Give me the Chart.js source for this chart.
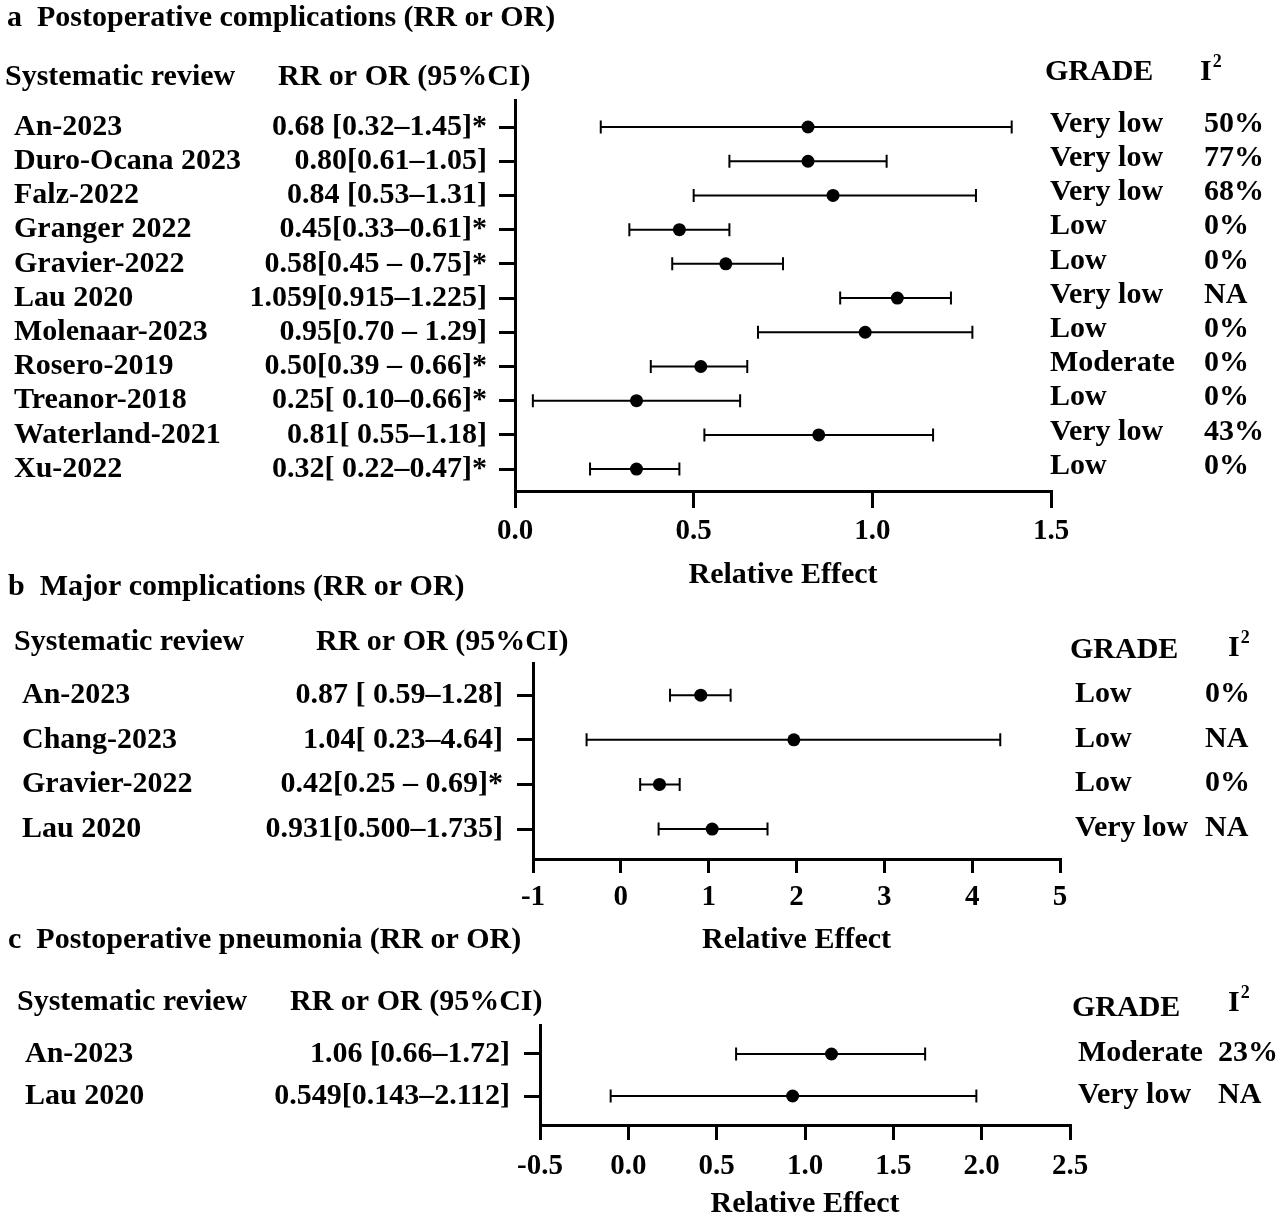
<!DOCTYPE html>
<html>
<head>
<meta charset="utf-8">
<script src="https://cdn.jsdelivr.net/npm/chart.js@4.4.0/dist/chart.umd.min.js"></script>
<style>
  html, body { margin: 0; padding: 0; background: #fff; overflow: hidden; }
  #wrap { position: relative; width: 1280px; height: 1218px; overflow: hidden; background: #fff; }
  canvas { position: absolute; left: 0; }
</style>
</head>
<body>
<div id="wrap">
  <canvas id="panelA" width="1280" height="600" style="top:0px"></canvas>
  <canvas id="panelB" width="1280" height="390" style="top:570px"></canvas>
  <canvas id="panelC" width="1280" height="320" style="top:910px"></canvas>
</div>
<script>
// ---- a: postoperative complications ----
var reviewsA = ['An-2023', 'Duro-Ocana 2023', 'Falz-2022', 'Granger 2022', 'Gravier-2022', 'Lau 2020',
  'Molenaar-2023', 'Rosero-2019', 'Treanor-2018', 'Waterland-2021', 'Xu-2022'];
var ciTextA = ['0.68 [0.32–1.45]', '0.80[0.61–1.05]', '0.84 [0.53–1.31]', '0.45[0.33–0.61]', '0.58[0.45 – 0.75]',
  '1.059[0.915–1.225]', '0.95[0.70 – 1.29]', '0.50[0.39 – 0.66]', '0.25[ 0.10–0.66]', '0.81[ 0.55–1.18]', '0.32[ 0.22–0.47]'];
var sigA = [true, false, false, true, true, false, false, true, true, false, true];
var pointA = [0.82, 0.82, 0.89, 0.46, 0.59, 1.07, 0.98, 0.52, 0.34, 0.85, 0.34];
var lowA = [0.24, 0.60, 0.50, 0.32, 0.44, 0.91, 0.68, 0.38, 0.05, 0.53, 0.21];
var highA = [1.39, 1.04, 1.29, 0.60, 0.75, 1.22, 1.28, 0.65, 0.63, 1.17, 0.46];
var gradeA = ['Very low', 'Very low', 'Very low', 'Low', 'Low', 'Very low', 'Low', 'Moderate', 'Low', 'Very low', 'Low'];
var i2A = ['50%', '77%', '68%', '0%', '0%', 'NA', '0%', '0%', '0%', '43%', '0%'];

// ---- b: major complications ----
var reviewsB = ['An-2023', 'Chang-2023', 'Gravier-2022', 'Lau 2020'];
var ciTextB = ['0.87 [ 0.59–1.28]', '1.04[ 0.23–4.64]', '0.42[0.25 – 0.69]', '0.931[0.500–1.735]'];
var sigB = [false, false, true, false];
var pointB = [0.91, 1.97, 0.44, 1.04];
var lowB = [0.56, -0.39, 0.22, 0.43];
var highB = [1.25, 4.32, 0.67, 1.67];
var gradeB = ['Low', 'Low', 'Low', 'Very low'];
var i2B = ['0%', 'NA', '0%', 'NA'];

// ---- c: postoperative pneumonia ----
var reviewsC = ['An-2023', 'Lau 2020'];
var ciTextC = ['1.06 [0.66–1.72]', '0.549[0.143–2.112]'];
var sigC = [false, false];
var pointC = [1.15, 0.93];
var lowC = [0.61, -0.10];
var highC = [1.68, 1.97];
var gradeC = ['Moderate', 'Very low'];
var i2C = ['23%', 'NA'];

Chart.defaults.font.family = '"Liberation Serif", "Times New Roman", serif';
Chart.defaults.font.size = 29;
Chart.defaults.font.weight = 'bold';
Chart.defaults.color = '#000';

var FONT = 'bold 30px "Liberation Serif", "Times New Roman", serif';
var SUP_FONT = 'bold 18px "Liberation Serif", "Times New Roman", serif';

// whiskers under the dots, table text around the plot
var forestPlot = {
  id: 'forestPlot',
  beforeDatasetsDraw(chart, args, o) {
    const { ctx, scales: { x, y } } = chart;
    ctx.save();
    ctx.strokeStyle = '#000';
    ctx.lineWidth = 2;
    o.low.forEach((lo, i) => {
      const yy = y.getPixelForValue(i);
      const x1 = x.getPixelForValue(lo);
      const x2 = x.getPixelForValue(o.high[i]);
      ctx.beginPath();
      ctx.moveTo(x1, yy); ctx.lineTo(x2, yy);
      ctx.moveTo(x1, yy - 6.5); ctx.lineTo(x1, yy + 6.5);
      ctx.moveTo(x2, yy - 6.5); ctx.lineTo(x2, yy + 6.5);
      ctx.stroke();
    });
    ctx.restore();
  },
  afterDraw(chart, args, o) {
    const { ctx, scales: { y } } = chart;
    const off = o.top; // page y -> canvas y
    ctx.save();
    ctx.fillStyle = '#000';
    ctx.font = FONT;
    ctx.textBaseline = 'middle';
    ctx.textAlign = 'left';

    ctx.fillText(o.title, o.titleX, o.titleY - off);
    ctx.fillText('Systematic review', o.hdrNameX, o.hdrY - off);
    ctx.fillText('RR or OR (95%CI)', o.hdrCiX, o.hdrY - off);
    ctx.fillText('GRADE', o.hdrGradeX, o.hdrGradeY - off);
    ctx.fillText('I', o.hdrI2X, o.hdrI2Y - off);
    const iw = ctx.measureText('I').width;
    ctx.font = SUP_FONT;
    ctx.fillText('2', o.hdrI2X + iw + 1, o.hdrI2Y - off - 10);
    ctx.font = FONT;

    o.names.forEach((name, i) => {
      const yy = y.getPixelForValue(i);
      ctx.textAlign = 'left';
      ctx.fillText(name, o.nameX, yy);
      ctx.textAlign = 'right';
      ctx.fillText(o.ci[i] + (o.sig[i] ? '*' : ''), o.ciX, yy);
      ctx.textAlign = 'left';
      ctx.fillText(o.grade[i], o.gradeX, yy + o.dy);
      ctx.fillText(o.i2[i], o.i2X, yy + o.dy);
    });
    ctx.restore();
  }
};

function forestChart(canvasId, p) {
  return new Chart(document.getElementById(canvasId), {
    type: 'scatter',
    data: {
      datasets: [{
        data: p.point.map((v, i) => ({ x: v, y: i })),
        pointRadius: 6.5,
        pointHoverRadius: 6.5,
        borderWidth: 0,
        backgroundColor: '#000'
      }]
    },
    options: {
      responsive: false,
      animation: false,
      events: [],
      layout: { padding: p.padding },
      plugins: {
        legend: { display: false },
        tooltip: { enabled: false },
        forestPlot: p.text
      },
      scales: {
        x: {
          type: 'linear',
          min: p.xMin,
          max: p.xMax,
          afterFit: (s) => { s.height = p.xHeight; s.paddingLeft = 0; s.paddingRight = 0; },
          ticks: {
            stepSize: p.xStep,
            padding: p.xTickPad,
            maxRotation: 0,
            callback: (v) => Number(v).toFixed(p.decimals)
          },
          grid: { drawOnChartArea: false, tickLength: p.xTickLen, lineWidth: 3, color: '#000' },
          border: { display: true, width: 3, color: '#000' },
          title: { display: true, text: 'Relative Effect', padding: 0, font: { size: 30 } }
        },
        y: {
          type: 'linear',
          reverse: true,
          min: p.yMin,
          max: p.yMax,
          afterFit: (s) => { s.width = 40; },
          afterBuildTicks: (s) => { s.ticks = p.point.map((_, i) => ({ value: i })); },
          ticks: { display: false },
          grid: { drawOnChartArea: false, tickLength: 16, lineWidth: 3, color: '#000' },
          border: { display: true, width: 3, color: '#000' }
        }
      }
    },
    plugins: [forestPlot]
  });
}

forestChart('panelA', {
  point: pointA,
  xMin: 0, xMax: 1.5, xStep: 0.5, decimals: 1,
  yMin: -0.79, yMax: 10.64,
  padding: { top: 100, left: 475, right: 229, bottom: 7 },
  xHeight: 102, xTickLen: 17, xTickPad: 6,
  text: {
    top: 0, low: lowA, high: highA,
    names: reviewsA, ci: ciTextA, sig: sigA, grade: gradeA, i2: i2A,
    title: 'a  Postoperative complications (RR or OR)', titleX: 7, titleY: 18,
    hdrNameX: 5, hdrCiX: 278, hdrY: 77,
    hdrGradeX: 1045, hdrGradeY: 72, hdrI2X: 1200, hdrI2Y: 72,
    nameX: 14, ciX: 487, gradeX: 1050, i2X: 1204, dy: -3
  }
});

forestChart('panelB', {
  point: pointB,
  xMin: -1, xMax: 5, xStep: 1, decimals: 0,
  yMin: -0.72, yMax: 3.67,
  padding: { top: 93, left: 493, right: 220, bottom: 2 },
  xHeight: 99, xTickLen: 14, xTickPad: 7,
  text: {
    top: 570, low: lowB, high: highB,
    names: reviewsB, ci: ciTextB, sig: sigB, grade: gradeB, i2: i2B,
    title: 'b  Major complications (RR or OR)', titleX: 8, titleY: 587,
    hdrNameX: 14, hdrCiX: 316, hdrY: 642,
    hdrGradeX: 1070, hdrGradeY: 650, hdrI2X: 1228, hdrI2Y: 648,
    nameX: 22, ciX: 503, gradeX: 1075, i2X: 1205, dy: -1
  }
});

forestChart('panelC', {
  point: pointC,
  xMin: -0.5, xMax: 2.5, xStep: 0.5, decimals: 1,
  yMin: -0.69, yMax: 1.69,
  padding: { top: 115, left: 500, right: 210, bottom: 8 },
  xHeight: 97, xTickLen: 15, xTickPad: 9,
  text: {
    top: 910, low: lowC, high: highC,
    names: reviewsC, ci: ciTextC, sig: sigC, grade: gradeC, i2: i2C,
    title: 'c  Postoperative pneumonia (RR or OR)', titleX: 8, titleY: 940,
    hdrNameX: 17, hdrCiX: 290, hdrY: 1002,
    hdrGradeX: 1072, hdrGradeY: 1008, hdrI2X: 1228, hdrI2Y: 1003,
    nameX: 25, ciX: 510, gradeX: 1078, i2X: 1218, dy: -1
  }
});
</script>
</body>
</html>
